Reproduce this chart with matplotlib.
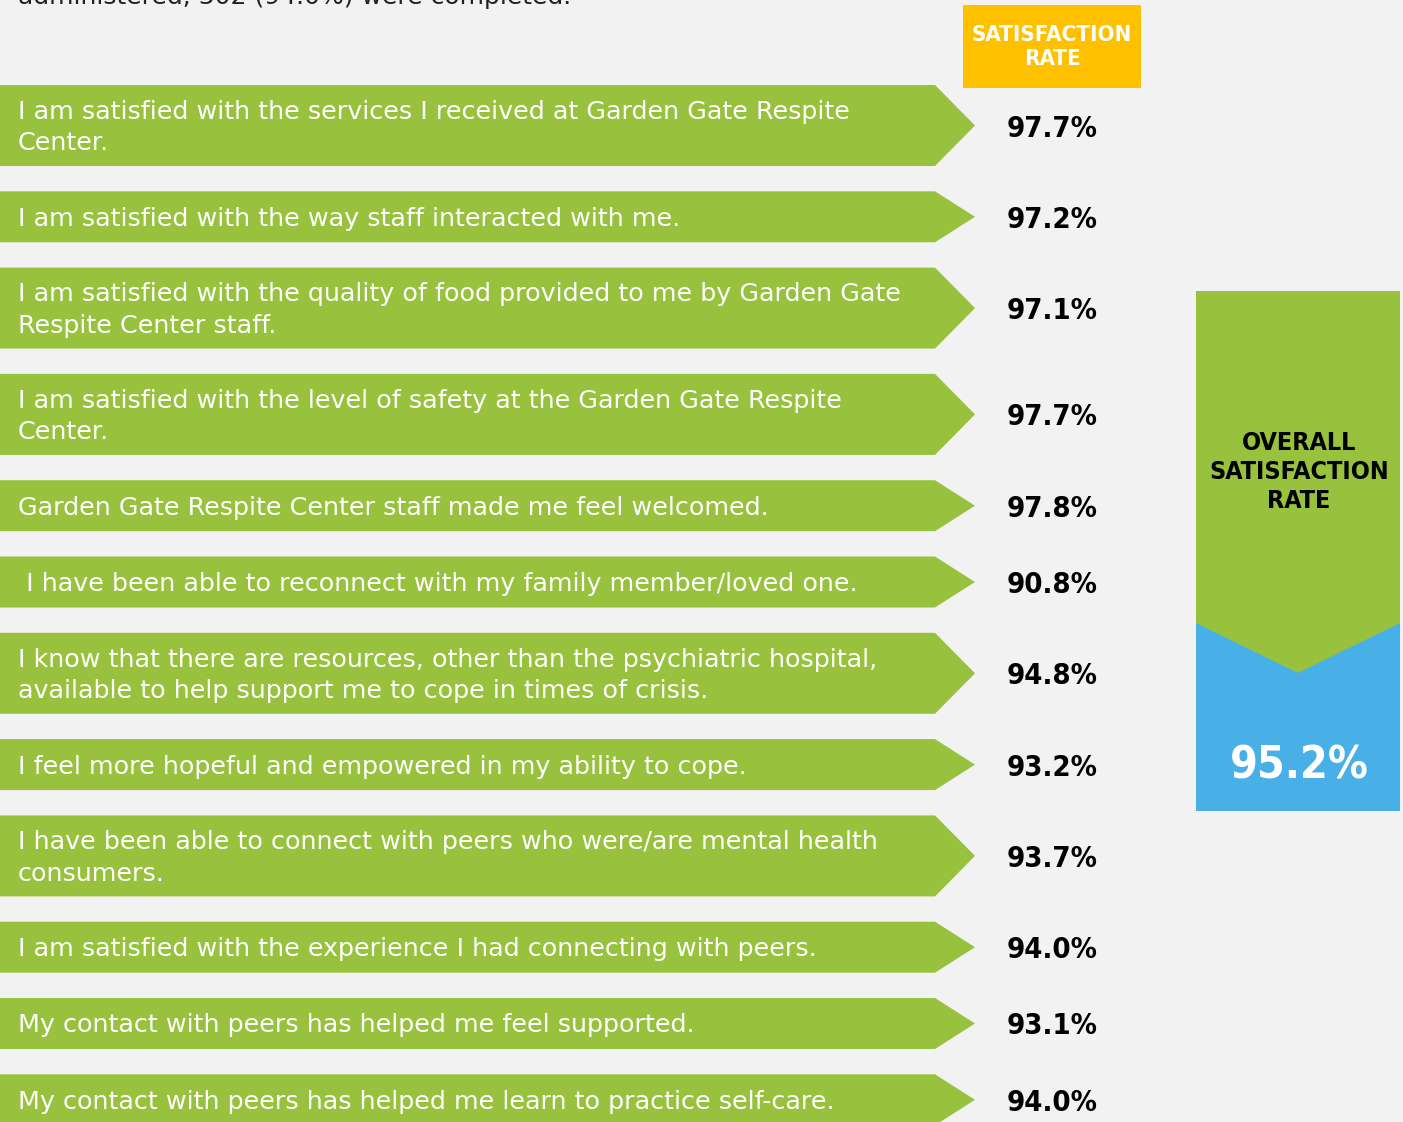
import matplotlib
matplotlib.use("Agg")
import matplotlib.pyplot as plt
from matplotlib.patches import Polygon, Rectangle

# ---- data ----
statements = [
    "I am satisfied with the services I received at Garden Gate Respite\nCenter.",
    "I am satisfied with the way staff interacted with me.",
    "I am satisfied with the quality of food provided to me by Garden Gate\nRespite Center staff.",
    "I am satisfied with the level of safety at the Garden Gate Respite\nCenter.",
    "Garden Gate Respite Center staff made me feel welcomed.",
    " I have been able to reconnect with my family member/loved one.",
    "I know that there are resources, other than the psychiatric hospital,\navailable to help support me to cope in times of crisis.",
    "I feel more hopeful and empowered in my ability to cope.",
    "I have been able to connect with peers who were/are mental health\nconsumers.",
    "I am satisfied with the experience I had connecting with peers.",
    "My contact with peers has helped me feel supported.",
    "My contact with peers has helped me learn to practice self-care.",
]
rates = [97.7, 97.2, 97.1, 97.7, 97.8, 90.8, 94.8, 93.2, 93.7, 94.0, 93.1, 94.0]
overall_rate = 95.2
header_text = "SATISFACTION\nRATE"
overall_text = "OVERALL\nSATISFACTION\nRATE"
intro_text = "administered, 302 (94.0%) were completed."

# ---- style ----
BG = "#F2F2F2"
GREEN = "#98C23E"
BLUE = "#48B0E6"
YELLOW = "#FFC000"
W, H = 1403, 1122

fig = plt.figure(figsize=(W / 100, H / 100), dpi=100, facecolor=BG)
ax = fig.add_axes([0, 0, 1, 1])
ax.set_xlim(0, W)
ax.set_ylim(H, 0)
ax.axis("off")
ax.set_facecolor(BG)

# intro text (cut off at top, as in the source)
ax.text(18, 4, intro_text, fontsize=18, color="#222222", ha="left", va="baseline",
        family="DejaVu Sans")

# header box
ax.add_patch(Rectangle((963, 5), 178, 83, facecolor=YELLOW, edgecolor="none"))
ax.text(1052, 47, header_text, fontsize=16, color="white", ha="center", va="center",
        fontweight="bold", linespacing=1.3, family="DejaVu Sans", fontstretch="condensed")

# arrows
y = 85.0
body_end, tip = 935, 975
gap = 25.3
for stmt, r in zip(statements, rates):
    nlines = stmt.count("\n") + 1
    h = 81 if nlines == 2 else 51
    yc = y + h / 2
    poly = Polygon([(0, y), (body_end, y), (tip, yc), (body_end, y + h), (0, y + h)],
                   closed=True, facecolor=GREEN, edgecolor="none")
    ax.add_patch(poly)
    ax.text(18, yc + 2, stmt, fontsize=18.3, color="white", ha="left", va="center",
            linespacing=1.4, family="DejaVu Sans")
    ax.text(1052, yc + 3, f"{r:.1f}%", fontsize=21, color="black", ha="center",
            va="center", fontweight="bold", family="DejaVu Sans", fontstretch="condensed")
    y += h + gap

# overall box
x0, x1 = 1196, 1400
top, side_y, point_y, bot = 291, 623, 673, 811
xm = (x0 + x1) / 2
ax.add_patch(Rectangle((x0, top), x1 - x0, bot - top, facecolor=BLUE, edgecolor="none"))
ax.add_patch(Polygon([(x0, top), (x1, top), (x1, side_y), (xm, point_y), (x0, side_y)],
                     closed=True, facecolor=GREEN, edgecolor="none"))
ax.text(xm + 1, 472, overall_text, fontsize=18, color="black", ha="center", va="center",
        fontweight="bold", linespacing=1.25, family="DejaVu Sans", fontstretch="condensed")
ax.text(xm + 1, 766, f"{overall_rate:.1f}%", fontsize=32, color="white", ha="center",
        va="center", fontweight="bold", family="DejaVu Sans", fontstretch="condensed")

fig.savefig("out.png", dpi=100, facecolor=BG)
